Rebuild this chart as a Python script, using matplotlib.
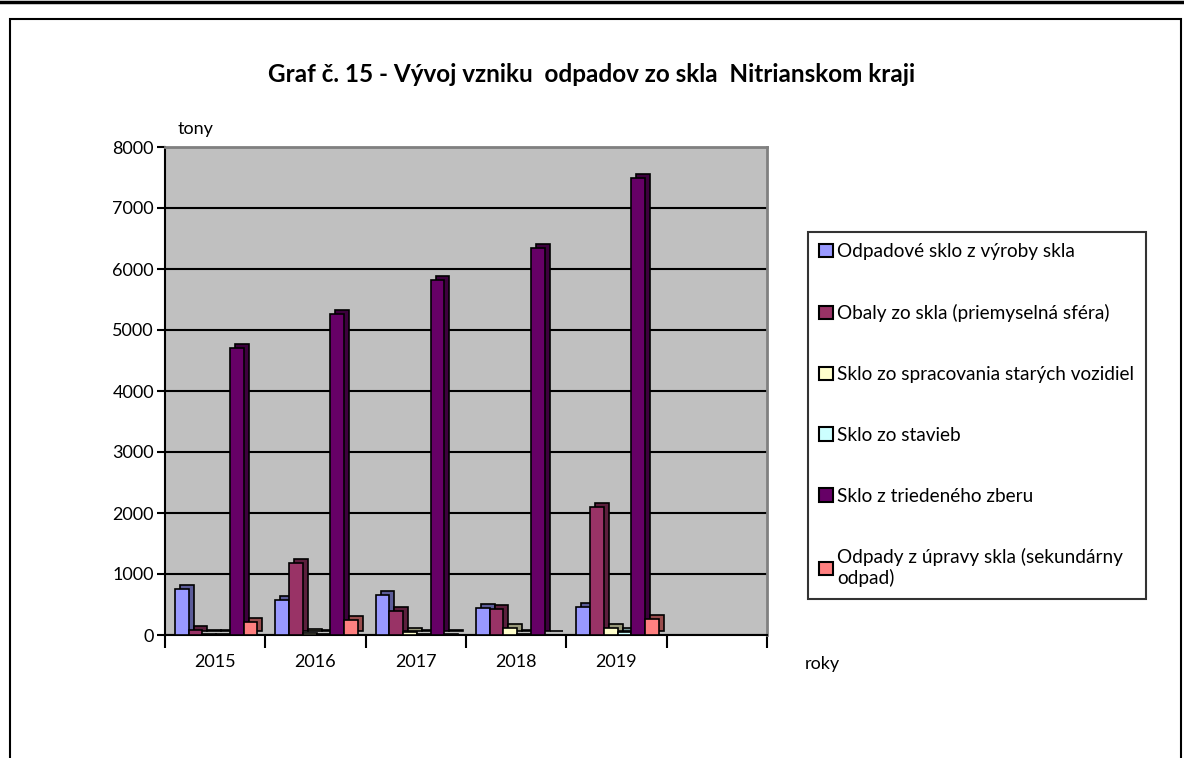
import matplotlib
matplotlib.use('Agg')
import numpy as np
import matplotlib.pyplot as plt
import matplotlib.transforms as mtransforms
from matplotlib.lines import Line2D
from matplotlib.patches import Rectangle, Patch

# data (tonnes)
years = ['2015', '2016', '2017', '2018', '2019']
series = ['Odpadové sklo z výroby skla',
          'Obaly zo skla (priemyselná sféra)',
          'Sklo zo spracovania starých vozidiel',
          'Sklo zo stavieb',
          'Sklo z triedeného zberu',
          'Odpady z úpravy skla (sekundárny\nodpad)']
vyroba = [750, 570, 660, 450, 460]
obaly = [80, 1180, 390, 420, 2100]
vozidla = [20, 30, 50, 110, 110]
stavby = [10, 10, 20, 15, 50]
zber = [4700, 5270, 5820, 6340, 7500]
uprava = [220, 250, 20, 0, 270]
colors = ['#9999FF', '#993366', '#FFFFCC', '#CCFFFF', '#660066', '#FF8080']
side = ['#5c5c99', '#5c1f3d', '#99997a', '#7a9999', '#3d003d', '#994d4d']

plt.rcParams['font.family'] = ['Lato', 'DejaVu Sans']

fig = plt.figure(figsize=(11.84, 7.58), dpi=100)
ax = fig.add_axes([165/1184, 1-635/758, (767-165)/1184, (635-147)/758])
ax.set_facecolor('#C0C0C0')

# frame decorations
fig.add_artist(Line2D([0, 1], [1-2/758, 1-2/758], color='black', lw=2.5))
fig.add_artist(Rectangle((10/1184, -0.05), (1181-10)/1184, 1.05-19/758,
                         transform=fig.transFigure, fill=False, ec='black', lw=1.5))

data = [vyroba, obaly, vozidla, stavby, zber, uprava]
n = len(data)
w = 0.82 / n
x = np.arange(len(years)) + 0.5
shift = mtransforms.offset_copy(ax.transData, fig=fig, x=5, y=4, units='dots')
for i, vals in enumerate(data):
    pos = x - 0.40 + w * i + w / 2
    ax.bar(pos, vals, w, color=side[i], edgecolor='black', lw=1.2,
           transform=shift, zorder=2, clip_on=False)
    ax.bar(pos, vals, w, color=colors[i], edgecolor='black', lw=1.2,
           zorder=3, clip_on=False)

ax.set_ylim(0, 8000)
ax.set_xlim(0, 6)
ax.set_yticks(np.arange(0, 8001, 1000))
ax.yaxis.grid(True, color='black', lw=1.5)
ax.set_axisbelow(True)
ax.set_xticks(np.arange(0, 7))
ax.set_xticklabels([])
ax.set_xticks(x, years, minor=True)
ax.tick_params(axis='x', which='minor', length=0, pad=14, labelsize=13)
ax.tick_params(axis='x', which='major', length=9, width=1.5, direction='out')
ax.tick_params(axis='y', length=6, width=1.5, direction='out', labelsize=13, pad=2)
for s in ['top', 'right']:
    ax.spines[s].set_color('#808080')
    ax.spines[s].set_linewidth(2)
ax.spines['left'].set_linewidth(1.5)
ax.spines['bottom'].set_linewidth(1.5)

fig.text(178/1184, 1-129/758, 'tony', fontsize=13, va='center', ha='left')
fig.text(805/1184, 1-664/758, 'roky', fontsize=13, va='center', ha='left')
fig.text(0.5, 1-75/758, 'Graf č. 15 - Vývoj vzniku  odpadov zo skla  Nitrianskom kraji',
         fontsize=17.5, fontweight='bold', ha='center', va='center')

handles = [Patch(facecolor=c, edgecolor='black', lw=1.5) for c in colors]
leg = fig.legend(handles, series, loc='upper left',
                 bbox_to_anchor=(808/1184, 1-232/758), fontsize=13.7,
                 frameon=True, fancybox=False, edgecolor='black',
                 labelspacing=2.3, handlelength=0.7, handleheight=0.7,
                 handletextpad=0.25, borderpad=0.6, borderaxespad=0)
leg.get_frame().set_linewidth(1.5)

fig.savefig('out.png', dpi=100)
